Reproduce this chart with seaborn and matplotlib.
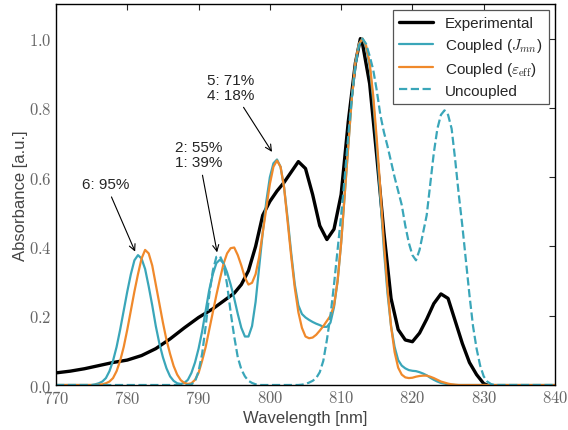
import numpy as np
import matplotlib
matplotlib.use("Agg")
import matplotlib.pyplot as plt
import seaborn as sns
from matplotlib.ticker import FormatStrFormatter

# experimental spectrum
exp_wl = [770, 772, 774, 776, 778, 780, 782, 784, 786, 788, 790, 792, 794,
          795, 796, 797, 798, 799, 800, 801, 802, 803, 804, 805, 806, 807, 808,
          809, 810, 811, 812, 812.7, 813, 814, 815, 816, 817, 818, 819, 820,
          821, 822, 823, 824, 825, 826, 827, 828, 829, 830, 830.5]
exp_abs = [0.035, 0.04, 0.047, 0.056, 0.065, 0.072, 0.085, 0.105, 0.133, 0.165,
           0.195, 0.22, 0.25, 0.265, 0.29, 0.33, 0.40, 0.49, 0.53, 0.56, 0.585,
           0.615, 0.645, 0.625, 0.55, 0.46, 0.42, 0.45, 0.55, 0.76, 0.93, 1.0,
           0.985, 0.87, 0.66, 0.44, 0.25, 0.16, 0.13, 0.125, 0.15, 0.19, 0.235,
           0.263, 0.25, 0.185, 0.12, 0.065, 0.03, 0.004, 0.0]

# simulated spectra, 0.5 nm grid 775..832 (rows of 5 nm)
sim_grid = np.arange(775, 832.01, 0.5)
coupled_j = [
    0.0, 0.002, 0.005, 0.01, 0.02, 0.04, 0.07, 0.11, 0.16, 0.215,
    0.27, 0.32, 0.36, 0.375, 0.365, 0.335, 0.285, 0.23, 0.17, 0.12,
    0.08, 0.048, 0.025, 0.012, 0.005, 0.003, 0.006, 0.015, 0.035, 0.065,
    0.105, 0.155, 0.215, 0.275, 0.32, 0.352, 0.362, 0.352, 0.325, 0.29,
    0.25, 0.205, 0.165, 0.14, 0.14, 0.17, 0.24, 0.34, 0.44, 0.53,
    0.6, 0.64, 0.651, 0.63, 0.57, 0.48, 0.38, 0.29, 0.23, 0.205,
    0.195, 0.188, 0.182, 0.177, 0.173, 0.168, 0.168, 0.18, 0.225, 0.3,
    0.41, 0.55, 0.69, 0.83, 0.93, 0.985, 1.0, 0.975, 0.92, 0.82,
    0.69, 0.54, 0.39, 0.265, 0.17, 0.11, 0.072, 0.056, 0.048, 0.043,
    0.041, 0.04, 0.037, 0.033, 0.028, 0.021, 0.015, 0.01, 0.006, 0.004,
    0.002, 0.001, 0.0, 0, 0, 0, 0, 0, 0, 0,
    0, 0, 0, 0, 0]
coupled_eff = [
    0, 0, 0.001, 0.002, 0.005, 0.01, 0.02, 0.04, 0.07, 0.11,
    0.16, 0.215, 0.27, 0.32, 0.365, 0.39, 0.38, 0.345, 0.29, 0.235,
    0.18, 0.13, 0.09, 0.055, 0.03, 0.014, 0.006, 0.003, 0.005, 0.015,
    0.035, 0.07, 0.11, 0.16, 0.21, 0.26, 0.306, 0.35, 0.38, 0.395,
    0.397, 0.375, 0.345, 0.31, 0.29, 0.295, 0.32, 0.37, 0.44, 0.51,
    0.58, 0.63, 0.648, 0.63, 0.57, 0.47, 0.37, 0.28, 0.21, 0.165,
    0.14, 0.135, 0.137, 0.145, 0.157, 0.17, 0.185, 0.2, 0.23, 0.3,
    0.41, 0.55, 0.69, 0.83, 0.93, 0.985, 1.0, 0.98, 0.93, 0.835,
    0.71, 0.565, 0.41, 0.28, 0.17, 0.095, 0.05, 0.03, 0.022, 0.02,
    0.021, 0.024, 0.026, 0.027, 0.027, 0.024, 0.02, 0.015, 0.01, 0.007,
    0.004, 0.002, 0.001, 0, 0, 0, 0, 0, 0, 0,
    0, 0, 0, 0, 0]
uncoupled = [
    0, 0, 0, 0, 0, 0, 0, 0, 0, 0,
    0, 0, 0, 0, 0, 0, 0, 0, 0, 0,
    0, 0, 0, 0, 0, 0, 0, 0, 0.002, 0.01,
    0.04, 0.09, 0.17, 0.26, 0.33, 0.37, 0.372, 0.35, 0.29, 0.21,
    0.14, 0.08, 0.045, 0.025, 0.012, 0.006, 0.002, 0, 0, 0,
    0, 0, 0, 0, 0, 0, 0, 0, 0, 0.001,
    0.003, 0.007, 0.012, 0.02, 0.037, 0.07, 0.13, 0.2, 0.29, 0.39,
    0.49, 0.6, 0.72, 0.83, 0.92, 0.98, 1.0, 0.985, 0.95, 0.91,
    0.85, 0.78, 0.73, 0.69, 0.645, 0.6, 0.56, 0.52, 0.46, 0.41,
    0.375, 0.36, 0.39, 0.44, 0.49, 0.58, 0.67, 0.74, 0.78, 0.793,
    0.78, 0.74, 0.65, 0.55, 0.46, 0.36, 0.26, 0.17, 0.105, 0.056,
    0.025, 0.01, 0.003, 0, 0]

sim_wl = np.concatenate([[770], sim_grid, [840]])
def pad(v):
    return np.concatenate([[0], v, [0]])

TEAL = "#3aa6b9"
ORANGE = "#f0892b"

sns.set_style("white")
plt.rcParams['font.family'] = ['Liberation Sans', 'DejaVu Sans']
plt.rcParams['mathtext.fontset'] = 'cm'

fig = plt.figure(figsize=(5.68, 4.31), dpi=100)
ax = fig.add_axes([0.0986, 0.1044, 0.8785, 0.884])

sns.lineplot(x=exp_wl, y=exp_abs, color="black", lw=2.4, label="Experimental", ax=ax)
sns.lineplot(x=sim_wl, y=pad(coupled_j), color=TEAL, lw=1.6, label="Coupled ($J_{mn}$)", ax=ax)
sns.lineplot(x=sim_wl, y=pad(coupled_eff), color=ORANGE, lw=1.6,
             label=r"Coupled ($\varepsilon_{\rm eff}$)", ax=ax)
sns.lineplot(x=sim_wl, y=pad(uncoupled), color=TEAL, lw=1.6, linestyle="--",
             dashes=(3.5, 2.5), label="Uncoupled", ax=ax)

ax.set_xlim(770, 840)
ax.set_ylim(0, 1.1)
ax.set_xticks(range(770, 841, 10))
ax.set_yticks([0.0, 0.2, 0.4, 0.6, 0.8, 1.0])
ax.xaxis.set_major_formatter(FormatStrFormatter('$%d$'))
ax.yaxis.set_major_formatter(FormatStrFormatter('$%.1f$'))
ax.tick_params(direction='in', top=True, right=True, length=4, width=0.8,
               labelsize=12, labelcolor='#666666', pad=3)
for s in ax.spines.values():
    s.set_color('black')
    s.set_linewidth(1.0)

ax.set_xlabel("Wavelength [nm]", fontsize=12, color='#444444', labelpad=3)
ax.set_ylabel("Absorbance [a.u.]", fontsize=12, color='#444444', labelpad=1)

arrow = dict(arrowstyle='->', color='black', lw=0.8, shrinkA=2, shrinkB=0)
ax.annotate("6: 95%", xy=(781.1, 0.385), xytext=(777.0, 0.58), ha='center', va='center',
            fontsize=11, arrowprops=arrow)
ax.annotate("2: 55%\n1: 39%", xy=(792.6, 0.383), xytext=(790.0, 0.665), ha='center',
            va='center', fontsize=11, linespacing=1.1, arrowprops=arrow)
ax.annotate("5: 71%\n4: 18%", xy=(800.3, 0.673), xytext=(794.5, 0.86), ha='center',
            va='center', fontsize=11, linespacing=1.1, arrowprops=arrow)

leg = ax.legend(loc='upper right', fancybox=False, edgecolor='#555555', framealpha=1,
                fontsize=11, handlelength=2.2, borderaxespad=0.4, labelspacing=0.38)
leg.get_frame().set_linewidth(0.9)

fig.savefig("out.png", dpi=100)
